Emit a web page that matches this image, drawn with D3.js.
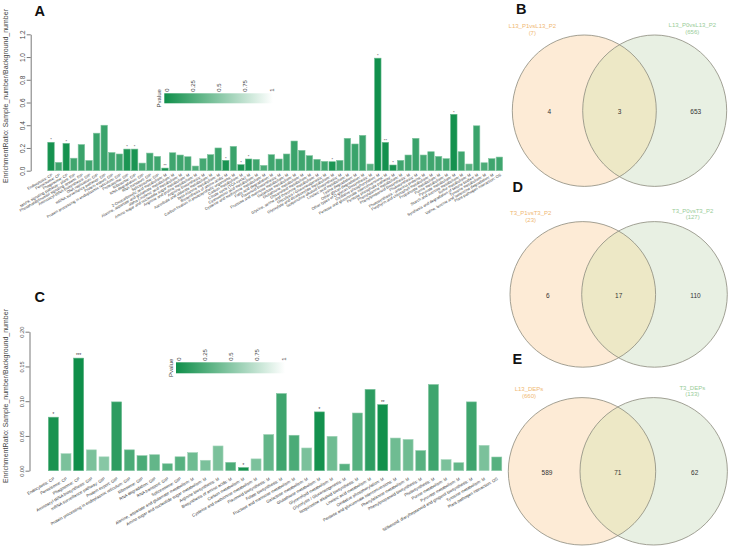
<!DOCTYPE html>
<html><head><meta charset="utf-8">
<script src="https://cdn.jsdelivr.net/npm/d3@7"></script>
<style>body{margin:0;background:#fff}svg{display:block}text{font-family:"Liberation Sans",Arial,sans-serif}</style>
</head><body><svg id="c" width="730" height="548"></svg>
<script>
// ---------- DATA ----------
const aCategories = [
"Endocytosis: CP","Peroxisome: CP","Phagosome: CP",
"MAPK signaling pathway - plant: EIP","Phosphatidylinositol signaling system: EIP",
"Aminoacyl-tRNA biosynthesis: GIP","DNA replication: GIP","mRNA surveillance pathway: GIP","Protein export: GIP",
"Protein processing in endoplasmic reticulum: GIP","Proteasome: GIP","Ribosome: GIP","RNA degradation: GIP","RNA transport: GIP","Spliceosome: GIP",
"2-Oxocarboxylic acid metabolism: M","Alanine, aspartate and glutamate metabolism: M","alpha-Linolenic acid metabolism: M",
"Amino sugar and nucleotide sugar metabolism: M","Arginine and proline metabolism: M","Arginine biosynthesis: M",
"Ascorbate and aldarate metabolism: M","beta-Alanine metabolism: M","Biosynthesis of amino acids: M",
"Carbon fixation in photosynthetic organisms: M","Carbon metabolism: M","Citrate cycle (TCA cycle): M",
"Cyanoamino acid metabolism: M","Cysteine and methionine metabolism: M","Fatty acid degradation: M",
"Flavonoid biosynthesis: M","Fructose and mannose metabolism: M","Galactose metabolism: M","Glutathione metabolism: M",
"Glycerolipid metabolism: M","Glycine, serine and threonine metabolism: M","Glycolysis / Gluconeogenesis: M",
"Glyoxylate and dicarboxylate metabolism: M","Isoquinoline alkaloid biosynthesis: M","Linoleic acid metabolism: M",
"Lysine degradation: M","Other glycan degradation: M","Other types of O-glycan biosynthesis: M","Oxidative phosphorylation: M",
"Pentose and glucuronate interconversions: M","Pentose phosphate pathway: M","Phenylalanine metabolism: M",
"Phenylpropanoid biosynthesis: M","Photosynthesis: M","Photosynthesis - antenna proteins: M",
"Porphyrin and chlorophyll metabolism: M","Propanoate metabolism: M","Purine metabolism: M","Pyruvate metabolism: M",
"Starch and sucrose metabolism: M","Sulfur metabolism: M","Synthesis and degradation of ketone bodies: M",
"Tyrosine metabolism: M","Valine, leucine and isoleucine degradation: M","Plant-pathogen interaction: OS"];
const aValues = [0.25,0.073,0.24,0.11,0.23,0.09,0.33,0.40,0.16,0.147,0.19,0.19,0.067,0.155,0.126,0.023,0.158,0.138,0.123,0.041,
0.106,0.141,0.20,0.091,0.214,0.053,0.103,0.10,0.047,0.141,0.103,0.147,0.261,0.179,0.132,0.10,0.082,0.079,0.091,0.285,
0.235,0.311,0.059,0.99,0.249,0.05,0.091,0.138,0.285,0.138,0.167,0.126,0.106,0.496,0.167,0.059,0.395,0.07,0.106,0.12];
const aPvalues = [0.03,0.2,0.03,0.2,0.18,0.2,0.18,0.18,0.2,0.2,0.05,0.05,0.22,0.2,0.2,0.02,0.2,0.2,0.2,0.25,
0.22,0.2,0.18,0.04,0.18,0.04,0.05,0.2,0.25,0.2,0.2,0.2,0.18,0.2,0.2,0.2,0.2,0.05,0.2,0.18,
0.18,0.18,0.3,0.01,0.02,0.04,0.2,0.2,0.18,0.22,0.2,0.2,0.2,0.02,0.2,0.3,0.18,0.25,0.2,0.2];
const aStars = ["*","","*","","","","","","","","*","*","","","","**","","","","",
"","","","*","","*","*","","","","","","","","","","","*","","",
"","","","*","**","*","","","","","","","","*","","","","","",""];
const aTicks = [0,0.2,0.4,0.6,0.8,1.0,1.2];

const cCategories = ["Endocytosis: CP","Peroxisome: CP","Phagosome: CP","Aminoacyl-tRNA biosynthesis: GIP",
"mRNA surveillance pathway: GIP","Protein export: GIP","Protein processing in endoplasmic reticulum: GIP","Ribosome: GIP",
"RNA degradation: GIP","RNA transport: GIP","Spliceosome: GIP","Alanine, aspartate and glutamate metabolism: M",
"Amino sugar and nucleotide sugar metabolism: M","Arginine biosynthesis: M","Biosynthesis of amino acids: M","Carbon metabolism: M",
"Cysteine and methionine metabolism: M","Flavonoid biosynthesis: M","Folate biosynthesis: M","Fructose and mannose metabolism: M",
"Galactose metabolism: M","Glutathione metabolism: M","Glycerolipid metabolism: M","Glycolysis / Gluconeogenesis: M",
"Isoquinoline alkaloid biosynthesis: M","Linoleic acid metabolism: M","Oxidative phosphorylation: M",
"Pentose and glucuronate interconversions: M","Phenylalanine metabolism: M","Phenylpropanoid biosynthesis: M",
"Photosynthesis: M","Purine metabolism: M","Pyruvate metabolism: M","Stilbenoid, diarylheptanoid and gingerol biosynthesis: M",
"Tyrosine metabolism: M","Plant-pathogen interaction: OS"];
const cValues = [0.077,0.0245,0.162,0.030,0.020,0.099,0.030,0.0216,0.023,0.010,0.020,0.026,0.015,0.0356,0.012,0.0045,0.017,0.052,
0.111,0.051,0.0327,0.0846,0.0495,0.0096,0.083,0.117,0.095,0.047,0.045,0.029,0.124,0.016,0.0115,0.099,0.0365,0.0197];
const cPvalues = [0.04,0.45,0.001,0.45,0.5,0.12,0.25,0.25,0.35,0.3,0.3,0.4,0.45,0.45,0.25,0.03,0.45,0.35,
0.2,0.25,0.45,0.02,0.4,0.3,0.3,0.12,0.01,0.4,0.4,0.3,0.2,0.45,0.35,0.2,0.45,0.3];
const cStars = ["*","","***","","","","","","","","","","","","","*","","","","","","*","","","","","**","","","","","","","","",""];
const cTicks = [0,0.05,0.10,0.15,0.20];

const legendTicks = [0,0.25,0.5,0.75,1];
const legendLabels = ["0","0.25","0.5","0.75","1"];

const vennLeftNames = ["L13_P1vsL13_P2","T3_P1vsT3_P2","L13_DEPs"];
const vennRightNames = ["L13_P0vsL13_P2","T3_P0vsT3_P2","T3_DEPs"];
const vennLeftTotals = [7,23,660];
const vennRightTotals = [656,127,133];
const vennLeftOnly = [4,6,589];
const vennShared = [3,17,71];
const vennRightOnly = [653,110,62];
const vennLetters = ["B","D","E"];

// ---------- DRAW ----------
const svg = d3.select("#c");
svg.append("rect").attr("width",730).attr("height",548).attr("fill","#fff");
const colorScale = d3.scaleLinear().domain([0,1]).range(["#0f8f4a","#ffffff"]).interpolate(d3.interpolateRgb);
const defs = svg.append("defs");
const grad = defs.append("linearGradient").attr("id","pg");
d3.range(0,1.0001,0.1).forEach(t=>grad.append("stop").attr("offset",t).attr("stop-color",colorScale(t)));

function barPanel(o){
  const g = svg.append("g");
  const x = d3.scaleBand().domain(o.cats).range(o.xr).paddingInner(o.pad).paddingOuter(o.pad/2);
  const y = d3.scaleLinear().domain(o.yd).range(o.yr);
  const data = o.cats.map((c,i)=>({c,v:o.vals[i],p:o.ps[i],s:o.stars[i]}));
  g.selectAll("rect.b").data(data).join("rect").attr("class","b")
    .attr("x",d=>x(d.c)).attr("width",x.bandwidth())
    .attr("y",d=>y(d.v)).attr("height",d=>y(0)-y(d.v))
    .attr("fill",d=>colorScale(d.p))
    .attr("stroke",d=>d3.interpolateRgb(colorScale(d.p),"#ffffff")(0.35)).attr("stroke-width",0.6);
  g.selectAll("text.s").data(data.filter(d=>d.s)).join("text").attr("class","s")
    .attr("x",d=>x(d.c)+x.bandwidth()/2).attr("y",d=>y(d.v)-0.8)
    .attr("text-anchor","middle").attr("font-size",o.starFs).attr("fill","#333").text(d=>d.s);
  g.selectAll("text.xl").data(data).join("text").attr("class","xl")
    .attr("transform",d=>{const ax=x(d.c)+x.bandwidth()/2+o.lx, ay=y(0)+o.ly; return `translate(${ax},${ay}) rotate(-30)`;})
    .attr("text-anchor","end").attr("font-size",o.lfs).attr("fill","#333").text(d=>d.c);
  const ax = g.append("g").attr("transform",`translate(${o.axX},0)`)
    .call(d3.axisLeft(y).tickValues(o.ticks).tickFormat(o.fmt).tickSize(4).tickSizeOuter(0));
  ax.select(".domain").attr("stroke","#555").attr("stroke-width",0.8);
  ax.selectAll(".tick line").attr("stroke","#555").attr("stroke-width",0.8);
  ax.selectAll(".tick text").attr("transform","rotate(-90)").attr("x",0).attr("y",o.tly).attr("dy",0)
    .attr("text-anchor","middle").attr("font-size",o.tfs).attr("fill","#444").attr("font-family","Liberation Sans, Arial, sans-serif");
  g.append("text").attr("transform",`translate(${o.titleX},${o.titleY}) rotate(-90)`).attr("text-anchor","middle")
    .attr("font-size",7).attr("fill","#444").text("EnrichmentRatio: Sample_number/Background_number");
  // legend
  const L = o.leg;
  g.append("rect").attr("x",L.x0).attr("y",L.y0).attr("width",L.x1-L.x0).attr("height",L.h).attr("fill","url(#pg)");
  const ls = d3.scaleLinear().domain([0,1]).range([L.l0,L.l1]);
  g.selectAll("text.lg").data(legendTicks).join("text").attr("class","lg")
    .attr("transform",(d)=>`translate(${ls(d)+2},${L.y0-1.5}) rotate(-90)`)
    .attr("font-size",6).attr("fill","#444").text((d,i)=>legendLabels[i]);
  g.append("text").attr("transform",`translate(${L.x0-3},${L.y0+L.h/2}) rotate(-90)`).attr("text-anchor","middle")
    .attr("font-size",6).attr("fill","#444").text("Pvalue");
  g.append("text").attr("x",o.letter[0]).attr("y",o.letter[1]).attr("font-size",14.5).attr("font-weight","bold").attr("fill","#111").text(o.letter[2]);
}

barPanel({cats:aCategories,vals:aValues,ps:aPvalues,stars:aStars,xr:[47.2,503.2],pad:0.15,yd:[0,1.2],yr:[170.7,34.3],
  ticks:aTicks,fmt:d3.format(".1f"),axX:30.7,tly:-5.5,tfs:6.5,titleX:8,titleY:96,lfs:3.9,lx:2,ly:5,starFs:4,
  leg:{x0:164.3,x1:273,y0:93.3,h:10,l0:166.5,l1:271.5},letter:[34.5,15.5,"A"]});
barPanel({cats:cCategories,vals:cValues,ps:cPvalues,stars:cStars,xr:[47,503.1],pad:0.21,yd:[0,0.2],yr:[470.7,331.7],
  ticks:cTicks,fmt:d3.format(".2f"),axX:29.5,tly:-6,tfs:5.6,titleX:7.5,titleY:396,lfs:4.2,lx:1.5,ly:9,starFs:4.5,
  leg:{x0:176,x1:285,y0:362.3,h:11,l0:179,l1:283.5},letter:[34.5,302.3,"C"]});

// Venn panels
const vennLayout = [
  {lcx:584.3,rcx:654.7,cy:110.7,rx:72,ry:75.7,lname:[532.3,28],rname:[692.3,27],dy:7,letter:[516,14]},
  {lcx:582.8,rcx:654.5,cy:294.4,rx:72.8,ry:72.8,lname:[530.7,215.3],rname:[692.7,213],dy:6.3,letter:[512.5,191.7]},
  {lcx:582,rcx:653.7,cy:471.3,rx:73.7,ry:73.7,lname:[529,391.3],rname:[692.3,389.7],dy:6.6,letter:[512.5,364]}];
vennLayout.forEach((L,i)=>{
  const g = svg.append("g");
  const cid = "vc"+i;
  defs.append("clipPath").attr("id",cid).append("ellipse").attr("cx",L.rcx).attr("cy",L.cy).attr("rx",L.rx).attr("ry",L.ry);
  g.append("ellipse").attr("cx",L.lcx).attr("cy",L.cy).attr("rx",L.rx).attr("ry",L.ry).attr("fill","#fdebd6");
  g.append("ellipse").attr("cx",L.rcx).attr("cy",L.cy).attr("rx",L.rx).attr("ry",L.ry).attr("fill","#e8f0e3");
  g.append("ellipse").attr("cx",L.lcx).attr("cy",L.cy).attr("rx",L.rx).attr("ry",L.ry).attr("fill","#ede8c6").attr("clip-path",`url(#${cid})`);
  [L.lcx,L.rcx].forEach(cx=>g.append("ellipse").attr("cx",cx).attr("cy",L.cy).attr("rx",L.rx).attr("ry",L.ry)
    .attr("fill","none").attr("stroke","#8c8a7c").attr("stroke-width",0.8));
  const nums = [[L.lcx-35,vennLeftOnly[i]],[(L.lcx+L.rcx)/2,vennShared[i]],[L.rcx+41,vennRightOnly[i]]];
  nums.forEach(([x,v])=>g.append("text").attr("x",x).attr("y",L.cy+3.5).attr("text-anchor","middle")
    .attr("font-size",6.5).attr("fill","#333").text(v));
  g.append("text").attr("x",L.lname[0]).attr("y",L.lname[1]).attr("text-anchor","middle").attr("font-size",6).attr("fill","#efb873").text(vennLeftNames[i]);
  g.append("text").attr("x",L.lname[0]).attr("y",L.lname[1]+L.dy).attr("text-anchor","middle").attr("font-size",6).attr("fill","#efb873").text(`(${vennLeftTotals[i]})`);
  g.append("text").attr("x",L.rname[0]).attr("y",L.rname[1]).attr("text-anchor","middle").attr("font-size",6).attr("fill","#98cc98").text(vennRightNames[i]);
  g.append("text").attr("x",L.rname[0]).attr("y",L.rname[1]+L.dy).attr("text-anchor","middle").attr("font-size",6).attr("fill","#98cc98").text(`(${vennRightTotals[i]})`);
  g.append("text").attr("x",L.letter[0]).attr("y",L.letter[1]).attr("font-size",14.5).attr("font-weight","bold").attr("fill","#111").text(vennLetters[i]);
});
</script></body></html>
